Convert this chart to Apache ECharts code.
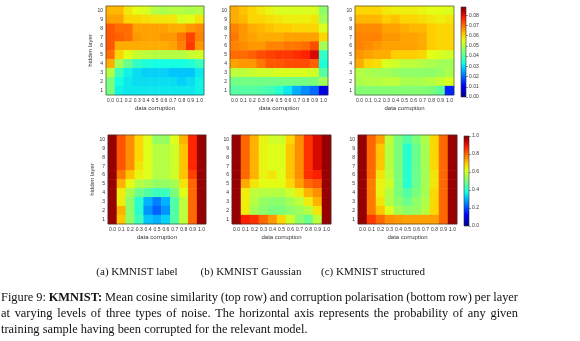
<!DOCTYPE html>
<html>
<head>
<meta charset="utf-8">
<script src="https://cdn.jsdelivr.net/npm/echarts@6/dist/echarts.min.js"></script>
<style>
html, body { margin: 0; padding: 0; background: #fff; }
#chart { width: 580px; height: 341px; }
</style>
</head>
<body>
<div id="chart"></div>
<script>
// x: probability of corruption, y: hidden layer
var corruptionLevels = ['0.0', '0.1', '0.2', '0.3', '0.4', '0.5', '0.6', '0.7', '0.8', '0.9', '1.0'];
var layers = ['1', '2', '3', '4', '5', '6', '7', '8', '9', '10'];

// mean cosine similarity, rows listed from layer 10 (top) down to layer 1
var labelCosine = [
    [0.063, 0.063, 0.058, 0.055, 0.054, 0.050, 0.049, 0.050, 0.050, 0.049, 0.050],
    [0.065, 0.065, 0.060, 0.060, 0.059, 0.058, 0.058, 0.058, 0.054, 0.055, 0.058],
    [0.072, 0.070, 0.070, 0.065, 0.065, 0.065, 0.065, 0.064, 0.064, 0.066, 0.067],
    [0.072, 0.071, 0.070, 0.066, 0.065, 0.065, 0.066, 0.066, 0.069, 0.074, 0.068],
    [0.072, 0.064, 0.064, 0.064, 0.064, 0.064, 0.064, 0.065, 0.068, 0.075, 0.066],
    [0.070, 0.060, 0.055, 0.052, 0.051, 0.050, 0.050, 0.050, 0.050, 0.052, 0.053],
    [0.064, 0.048, 0.042, 0.036, 0.034, 0.033, 0.033, 0.033, 0.033, 0.034, 0.037],
    [0.050, 0.037, 0.032, 0.030, 0.029, 0.029, 0.029, 0.028, 0.028, 0.028, 0.031],
    [0.044, 0.033, 0.031, 0.030, 0.030, 0.030, 0.030, 0.030, 0.029, 0.030, 0.032],
    [0.044, 0.032, 0.031, 0.031, 0.031, 0.031, 0.031, 0.031, 0.031, 0.031, 0.032]
];
var gaussianCosine = [
    [0.064, 0.062, 0.060, 0.058, 0.056, 0.054, 0.054, 0.054, 0.054, 0.054, 0.046],
    [0.064, 0.063, 0.060, 0.060, 0.059, 0.058, 0.057, 0.057, 0.057, 0.058, 0.048],
    [0.068, 0.066, 0.064, 0.063, 0.062, 0.061, 0.061, 0.060, 0.060, 0.060, 0.054],
    [0.069, 0.066, 0.065, 0.064, 0.064, 0.064, 0.065, 0.065, 0.065, 0.065, 0.060],
    [0.068, 0.067, 0.066, 0.066, 0.068, 0.068, 0.069, 0.069, 0.070, 0.073, 0.048],
    [0.070, 0.070, 0.071, 0.073, 0.074, 0.075, 0.075, 0.076, 0.077, 0.081, 0.036],
    [0.065, 0.066, 0.066, 0.069, 0.072, 0.072, 0.073, 0.073, 0.073, 0.071, 0.034],
    [0.051, 0.051, 0.052, 0.053, 0.053, 0.054, 0.054, 0.054, 0.054, 0.053, 0.040],
    [0.043, 0.043, 0.043, 0.043, 0.043, 0.043, 0.043, 0.043, 0.043, 0.044, 0.048],
    [0.040, 0.040, 0.040, 0.039, 0.038, 0.035, 0.031, 0.026, 0.023, 0.020, 0.008]
];
var structuredCosine = [
    [0.060, 0.060, 0.060, 0.058, 0.057, 0.057, 0.057, 0.056, 0.055, 0.055, 0.054],
    [0.063, 0.063, 0.063, 0.061, 0.062, 0.060, 0.060, 0.059, 0.058, 0.057, 0.058],
    [0.067, 0.067, 0.067, 0.065, 0.065, 0.064, 0.063, 0.063, 0.061, 0.060, 0.060],
    [0.068, 0.068, 0.068, 0.066, 0.066, 0.065, 0.065, 0.064, 0.061, 0.060, 0.060],
    [0.068, 0.067, 0.066, 0.065, 0.065, 0.065, 0.065, 0.064, 0.061, 0.060, 0.060],
    [0.066, 0.065, 0.064, 0.064, 0.061, 0.061, 0.061, 0.060, 0.055, 0.054, 0.053],
    [0.064, 0.060, 0.059, 0.054, 0.053, 0.051, 0.051, 0.050, 0.049, 0.048, 0.048],
    [0.050, 0.049, 0.048, 0.048, 0.047, 0.046, 0.046, 0.046, 0.046, 0.047, 0.049],
    [0.049, 0.050, 0.050, 0.051, 0.051, 0.049, 0.049, 0.049, 0.050, 0.052, 0.054],
    [0.045, 0.045, 0.045, 0.045, 0.045, 0.045, 0.045, 0.045, 0.044, 0.041, 0.014]
];

// corruption polarisation, rows from layer 10 down to layer 1
var labelPolar = [
    [0.98, 0.82, 0.76, 0.68, 0.62, 0.53, 0.53, 0.62, 0.72, 0.87, 0.98],
    [0.98, 0.82, 0.76, 0.68, 0.62, 0.57, 0.57, 0.60, 0.70, 0.87, 0.98],
    [0.98, 0.82, 0.76, 0.68, 0.62, 0.57, 0.57, 0.60, 0.70, 0.87, 0.98],
    [0.98, 0.82, 0.76, 0.66, 0.62, 0.57, 0.57, 0.60, 0.70, 0.87, 0.98],
    [0.98, 0.78, 0.70, 0.64, 0.62, 0.57, 0.57, 0.60, 0.70, 0.84, 0.98],
    [0.98, 0.72, 0.63, 0.57, 0.55, 0.53, 0.53, 0.55, 0.66, 0.80, 0.98],
    [0.98, 0.65, 0.55, 0.48, 0.45, 0.42, 0.42, 0.50, 0.62, 0.80, 0.98],
    [0.98, 0.65, 0.52, 0.40, 0.30, 0.25, 0.30, 0.45, 0.58, 0.80, 0.98],
    [0.98, 0.72, 0.52, 0.40, 0.27, 0.22, 0.27, 0.45, 0.58, 0.80, 0.98],
    [0.98, 0.70, 0.52, 0.42, 0.32, 0.30, 0.33, 0.45, 0.58, 0.80, 0.98]
];
var gaussianPolar = [
    [0.98, 0.80, 0.72, 0.64, 0.60, 0.60, 0.68, 0.76, 0.86, 0.92, 0.98],
    [0.98, 0.80, 0.72, 0.64, 0.62, 0.62, 0.70, 0.76, 0.86, 0.92, 0.98],
    [0.98, 0.80, 0.72, 0.64, 0.62, 0.62, 0.70, 0.76, 0.86, 0.92, 0.98],
    [0.98, 0.80, 0.72, 0.64, 0.62, 0.62, 0.70, 0.76, 0.86, 0.92, 0.98],
    [0.98, 0.80, 0.72, 0.64, 0.66, 0.62, 0.70, 0.76, 0.86, 0.88, 0.98],
    [0.98, 0.73, 0.66, 0.63, 0.63, 0.63, 0.68, 0.74, 0.80, 0.82, 0.98],
    [0.98, 0.65, 0.58, 0.57, 0.57, 0.57, 0.60, 0.65, 0.72, 0.76, 0.98],
    [0.98, 0.65, 0.57, 0.53, 0.52, 0.52, 0.55, 0.58, 0.65, 0.72, 0.98],
    [0.98, 0.65, 0.55, 0.52, 0.50, 0.50, 0.52, 0.54, 0.57, 0.66, 0.98],
    [0.98, 0.88, 0.86, 0.80, 0.75, 0.68, 0.60, 0.52, 0.48, 0.58, 0.98]
];
var structuredPolar = [
    [0.98, 0.80, 0.74, 0.58, 0.50, 0.45, 0.50, 0.56, 0.68, 0.80, 0.98],
    [0.98, 0.80, 0.70, 0.57, 0.50, 0.40, 0.48, 0.55, 0.68, 0.80, 0.98],
    [0.98, 0.80, 0.70, 0.57, 0.50, 0.40, 0.48, 0.55, 0.68, 0.80, 0.98],
    [0.98, 0.80, 0.70, 0.57, 0.50, 0.40, 0.48, 0.55, 0.68, 0.80, 0.98],
    [0.98, 0.80, 0.66, 0.58, 0.50, 0.40, 0.48, 0.55, 0.66, 0.80, 0.98],
    [0.98, 0.78, 0.64, 0.60, 0.50, 0.40, 0.48, 0.55, 0.66, 0.80, 0.98],
    [0.98, 0.78, 0.64, 0.57, 0.50, 0.45, 0.50, 0.55, 0.68, 0.80, 0.98],
    [0.98, 0.78, 0.66, 0.56, 0.52, 0.48, 0.52, 0.56, 0.68, 0.80, 0.98],
    [0.98, 0.78, 0.70, 0.62, 0.55, 0.52, 0.53, 0.57, 0.68, 0.80, 0.98],
    [0.98, 0.85, 0.80, 0.76, 0.75, 0.74, 0.74, 0.74, 0.74, 0.80, 0.98]
];

var cosineMax = 0.088;
var polarMax = 1.0;

var subCaptions = ['(a) KMNIST label', '(b) KMNIST Gaussian', '(c) KMNIST structured'];
var captionLines = [
    'Figure 9:  KMNIST: Mean cosine similarity (top row) and corruption polarisation (bottom row) per layer',
    'at varying levels of three types of noise.  The horizontal axis represents the probability of any given',
    'training sample having been corrupted for the relevant model.'
];

// matplotlib "jet"
var jet = ['#000080', '#0000c8', '#0000ff', '#0040ff', '#0080ff', '#00bfff', '#15ffe2', '#48ffaf',
    '#7bff7b', '#afff48', '#e2ff15', '#ffd200', '#ff9700', '#ff5c00', '#ff2200', '#c80000', '#800000'];

var chart = echarts.init(document.getElementById('chart'), null, {renderer: 'canvas'});

function toCells(rows) {
    var out = [];
    for (var r = 0; r < rows.length; r++) {
        for (var c = 0; c < rows[r].length; c++) {
            out.push([c, rows.length - 1 - r, rows[r][c]]);
        }
    }
    return out;
}

var panels = [
    {rows: labelCosine, grid: {left: 106, top: 6, width: 98, height: 89}, yName: true},
    {rows: gaussianCosine, grid: {left: 230, top: 6, width: 98, height: 89}},
    {rows: structuredCosine, grid: {left: 355, top: 6, width: 99, height: 89}},
    {rows: labelPolar, grid: {left: 108, top: 135, width: 98, height: 89}, yName: true},
    {rows: gaussianPolar, grid: {left: 232, top: 135, width: 99, height: 89}},
    {rows: structuredPolar, grid: {left: 358, top: 135, width: 99, height: 89}}
];
var colorBars = [
    {max: cosineMax, interval: 0.01, digits: 2, showMax: false, grid: {left: 461, top: 7, width: 5, height: 90}},
    {max: polarMax, interval: 0.2, digits: 1, showMax: true, grid: {left: 464, top: 136, width: 5, height: 90}}
];

var tickStyle = {color: '#333', width: 0.5};
var labelFont = {fontSize: 5, color: '#333', fontFamily: 'Liberation Sans'};
var nameFont = {fontSize: 6, color: '#333', fontFamily: 'Liberation Sans'};

var grids = [], xAxes = [], yAxes = [], series = [];
panels.forEach(function (p, i) {
    grids.push(Object.assign({show: true, borderColor: '#333', borderWidth: 0.6, z: 5,
        backgroundColor: 'transparent'}, p.grid));
    xAxes.push({
        gridIndex: i, type: 'category', data: corruptionLevels,
        name: 'data corruption', nameLocation: 'middle', nameGap: 10, nameTextStyle: nameFont,
        axisLine: {show: false},
        axisTick: {alignWithLabel: true, length: 2, lineStyle: tickStyle},
        axisLabel: Object.assign({margin: 3, interval: 0}, labelFont),
        splitLine: {show: false}
    });
    yAxes.push({
        gridIndex: i, type: 'category', data: layers,
        name: p.yName ? 'hidden layer' : '', nameLocation: 'middle', nameGap: 9, nameRotate: 90,
        nameTextStyle: nameFont,
        axisLine: {show: false},
        axisTick: {alignWithLabel: true, length: 2, lineStyle: tickStyle},
        axisLabel: Object.assign({margin: 3, interval: 0}, labelFont),
        splitLine: {show: false}
    });
    series.push({
        type: 'heatmap', xAxisIndex: i, yAxisIndex: i,
        data: toCells(p.rows), silent: true
    });
});

var gradientStops = jet.map(function (c, k) {
    return {offset: k / (jet.length - 1), color: c};
});
colorBars.forEach(function (cb, k) {
    var idx = panels.length + k;
    grids.push(Object.assign({show: true, borderColor: '#333', borderWidth: 0.6, z: 5,
        backgroundColor: 'transparent'}, cb.grid));
    xAxes.push({gridIndex: idx, type: 'category', data: [''], show: false});
    yAxes.push({
        gridIndex: idx, type: 'value', position: 'right', min: 0, max: cb.max, interval: cb.interval,
        axisLine: {show: false}, splitLine: {show: false},
        axisTick: {show: true, length: 2, lineStyle: tickStyle},
        axisLabel: Object.assign({margin: 3, showMaxLabel: cb.showMax,
            formatter: function (v) { return v.toFixed(cb.digits); }}, labelFont)
    });
    series.push({
        type: 'bar', xAxisIndex: idx, yAxisIndex: idx, data: [cb.max], barWidth: '100%', silent: true,
        itemStyle: {color: new echarts.graphic.LinearGradient(0, 1, 0, 0, gradientStops)}
    });
});

// caption text, lines 1-2 justified like the paper
var CAP_FONT = 12.4;
var measureCtx = document.createElement('canvas').getContext('2d');
function capFont(bold) {
    return (bold ? 'bold ' : '') + CAP_FONT + 'px "Liberation Serif"';
}
var graphics = [];
subCaptions.forEach(function (t, i) {
    graphics.push({
        type: 'text', x: [137, 251, 373][i], y: 272,
        style: {text: t, font: '11px "Liberation Serif"', fill: '#111', textAlign: 'center', textVerticalAlign: 'middle'}
    });
});
var lineY = [298, 314, 330];
var lineLeft = 1, lineRight = 518;
captionLines.forEach(function (line, li) {
    var words = line.split(/\s+/);
    var widths = words.map(function (w) {
        measureCtx.font = capFont(w === 'KMNIST:');
        return measureCtx.measureText(w).width;
    });
    var total = widths.reduce(function (a, b) { return a + b; }, 0);
    measureCtx.font = capFont(false);
    var gap = li < captionLines.length - 1 ? (lineRight - lineLeft - total) / (words.length - 1)
        : measureCtx.measureText(' ').width;
    var x = lineLeft;
    words.forEach(function (w, wi) {
        graphics.push({
            type: 'text', x: x, y: lineY[li],
            style: {text: w, font: capFont(w === 'KMNIST:'), fill: '#111', textAlign: 'left', textVerticalAlign: 'middle'}
        });
        x += widths[wi] + gap;
    });
});

chart.setOption({
    animation: false,
    backgroundColor: '#fff',
    grid: grids,
    xAxis: xAxes,
    yAxis: yAxes,
    visualMap: [
        {type: 'continuous', show: false, min: 0, max: cosineMax, seriesIndex: [0, 1, 2], inRange: {color: jet}},
        {type: 'continuous', show: false, min: 0, max: polarMax, seriesIndex: [3, 4, 5], inRange: {color: jet}}
    ],
    series: series,
    graphic: graphics
});
</script>
</body>
</html>
